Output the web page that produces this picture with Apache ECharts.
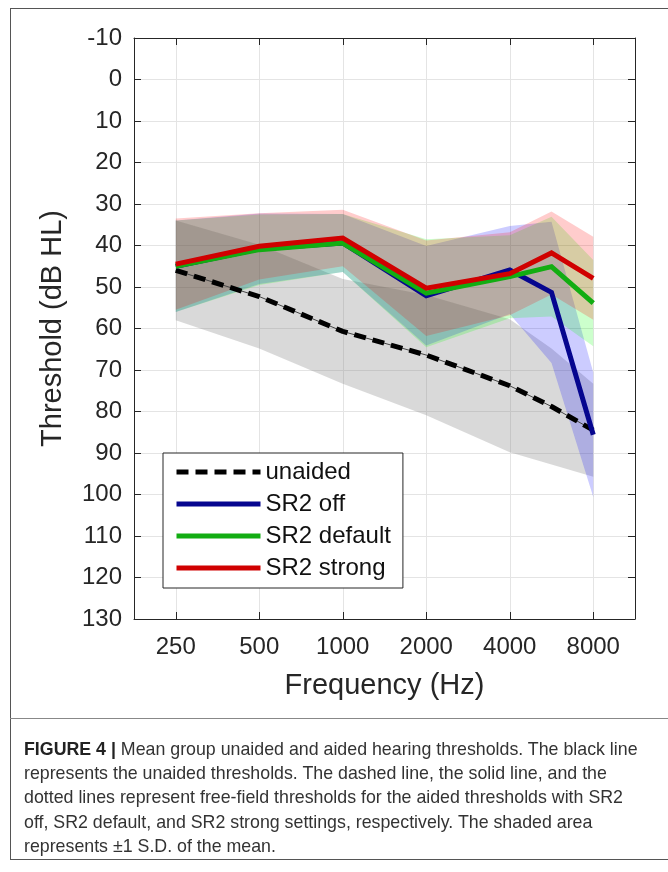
<!DOCTYPE html>
<html>
<head>
<meta charset="utf-8">
<script src="https://cdn.jsdelivr.net/npm/echarts@6/dist/echarts.min.js"></script>
<style>
  html, body { margin: 0; padding: 0; background: #fff; }
  #main { position: absolute; left: 0; top: 0; width: 668px; height: 872px; }
  #frame { position: absolute; left: 10px; top: 8px; width: 680px; height: 852px; border: 1px solid #555; box-sizing: border-box; }
  #sep { position: absolute; left: 10px; top: 718px; width: 680px; border-top: 1px solid #888; }
  #caption { position: absolute; left: 24px; top: 737px; font-family: "Liberation Sans", Arial, sans-serif; font-size: 17.8px; line-height: 24.2px; color: #333; white-space: nowrap; }
  #caption b { color: #222; }
</style>
</head>
<body>
<div id="main"></div>
<div id="frame"></div>
<div id="sep"></div>
<div id="caption"><b>FIGURE 4 |</b> Mean group unaided and aided hearing thresholds. The black line<br>represents the unaided thresholds. The dashed line, the solid line, and the<br>dotted lines represent free-field thresholds for the aided thresholds with SR2<br>off, SR2 default, and SR2 strong settings, respectively. The shaded area<br>represents ±1 S.D. of the mean.</div>
<script>
// octave position of each tick (250 Hz = 0)
let tickPos = [0, 1, 2, 3, 4, 5];
let tickLabels = ['250', '500', '1000', '2000', '4000', '8000'];
// measured frequencies: 250, 500, 1000, 2000, 4000, 6000, 8000
let pointPos = [0, 1, 2, 3, 4, 4.5, 5];

let unaidedMean = [46, 52.3, 60.7, 66.4, 73.8, 78.8, 84.5];
let unaidedSd   = [12, 12.5, 12.6, 14.5, 16, 14, 11.2];
let offMean     = [45, 40.8, 39.4, 52.1, 45.9, 51.3, 85.6];
let offSd       = [11, 8.5, 7, 12, 10.6, 17, 15];
let defMean     = [45, 41.0, 39.4, 51.5, 47.5, 45.1, 53.9];
let defSd       = [11, 8.5, 7, 13, 10, 12, 10.4];
let strongMean  = [44.5, 40.2, 38.2, 50.3, 46.8, 41.8, 47.9];
let strongSd    = [11, 8, 6.8, 11.5, 10, 10, 10];

let FONT = '"Liberation Sans", Arial, sans-serif';

function pts(mean) {
    return mean.map((m, i) => [pointPos[i], m]);
}

// shaded +-1 SD area as one polygon
function band(name, mean, sd, color, opacity, z) {
    let data = mean.map((m, i) => [pointPos[i], m - sd[i], m + sd[i]]);
    return {
        type: 'custom',
        name: name,
        silent: true,
        z: z,
        encode: { x: 0, y: [1, 2] },
        data: data,
        renderItem: function (params, api) {
            if (params.dataIndex !== 0) return;
            let top = data.map(d => api.coord([d[0], d[1]]));
            let bot = data.map(d => api.coord([d[0], d[2]])).reverse();
            return {
                type: 'polygon',
                shape: { points: top.concat(bot) },
                style: { fill: color, opacity: opacity }
            };
        }
    };
}

function line(name, mean, color, z) {
    return {
        name: name, type: 'line', data: pts(mean), symbol: 'none', z: z,
        lineStyle: { color: color, width: 5, cap: 'butt', join: 'miter' },
        itemStyle: { color: color }
    };
}

let myChart = echarts.init(document.getElementById('main'));

let axisCol = '#262626';
let tickFmt = v => tickLabels[tickPos.indexOf(Math.round(v))] || '';

myChart.setOption({
    animation: false,
    grid: { left: 134, right: 33, top: 38, bottom: 253 },
    legend: {
        orient: 'vertical',
        left: 163, top: 453,
        data: ['unaided', 'SR2 off', 'SR2 default', 'SR2 strong'],
        itemWidth: 84, itemHeight: 24, itemGap: 8,
        padding: [7, 12, 8, 11],
        borderColor: axisCol, borderWidth: 1,
        backgroundColor: '#fff',
        lineStyle: { width: 5 },
        itemStyle: { opacity: 0 },
        textStyle: { fontFamily: FONT, fontSize: 24, color: '#111' },
        selectedMode: false
    },
    xAxis: [{
        type: 'value', min: -0.5, max: 5.5,
        name: 'Frequency (Hz)', nameLocation: 'middle', nameGap: 52,
        nameTextStyle: { fontFamily: FONT, fontSize: 29, color: axisCol },
        axisLine: { onZero: false, lineStyle: { color: axisCol, width: 1 } },
        axisTick: { inside: true, length: 7, customValues: tickPos, lineStyle: { color: axisCol } },
        axisLabel: { customValues: tickPos, formatter: tickFmt, fontFamily: FONT, fontSize: 24, color: axisCol, margin: 16 },
        splitLine: { show: true, lineStyle: { color: '#e4e4e4' } }
    }, {
        type: 'value', min: -0.5, max: 5.5, position: 'top',
        axisLine: { onZero: false, lineStyle: { color: axisCol, width: 1 } },
        axisTick: { inside: true, length: 7, customValues: tickPos, lineStyle: { color: axisCol } },
        axisLabel: { show: false },
        splitLine: { show: false }
    }],
    yAxis: [{
        type: 'value', inverse: true, min: -10, max: 130, interval: 10,
        name: 'Threshold (dB HL)', nameLocation: 'middle', nameGap: 67, nameRotate: 90,
        nameTextStyle: { fontFamily: FONT, fontSize: 29, color: axisCol },
        axisLine: { show: true, onZero: false, lineStyle: { color: axisCol, width: 1 } },
        axisTick: { show: true, inside: true, length: 7, lineStyle: { color: axisCol } },
        axisLabel: { fontFamily: FONT, fontSize: 24, color: axisCol, margin: 12 },
        splitLine: { show: true, lineStyle: { color: '#e4e4e4' } }
    }, {
        type: 'value', inverse: true, min: -10, max: 130, interval: 10, position: 'right',
        axisLine: { show: true, onZero: false, lineStyle: { color: axisCol, width: 1 } },
        axisTick: { show: true, inside: true, length: 7, lineStyle: { color: axisCol } },
        axisLabel: { show: false },
        splitLine: { show: false }
    }],
    series: [
        band('unaided band', unaidedMean, unaidedSd, '#808080', 0.3, 1),
        band('off band', offMean, offSd, '#0000ff', 0.2, 2),
        band('default band', defMean, defSd, '#00ff00', 0.2, 3),
        band('strong band', strongMean, strongSd, '#ff0000', 0.2, 4),
        {
            name: 'unaided thin', type: 'line', data: pts(unaidedMean), symbol: 'none', z: 5,
            lineStyle: { color: '#444', width: 1 }
        },
        {
            name: 'unaided', type: 'line', data: pts(unaidedMean), symbol: 'none', z: 6,
            lineStyle: { color: '#000', width: 5, type: [12, 7], cap: 'butt' },
            itemStyle: { color: '#000' }
        },
        line('SR2 off', offMean, '#06068f', 7),
        line('SR2 default', defMean, '#12ad12', 8),
        line('SR2 strong', strongMean, '#d00000', 9)
    ]
});
</script>
</body>
</html>
